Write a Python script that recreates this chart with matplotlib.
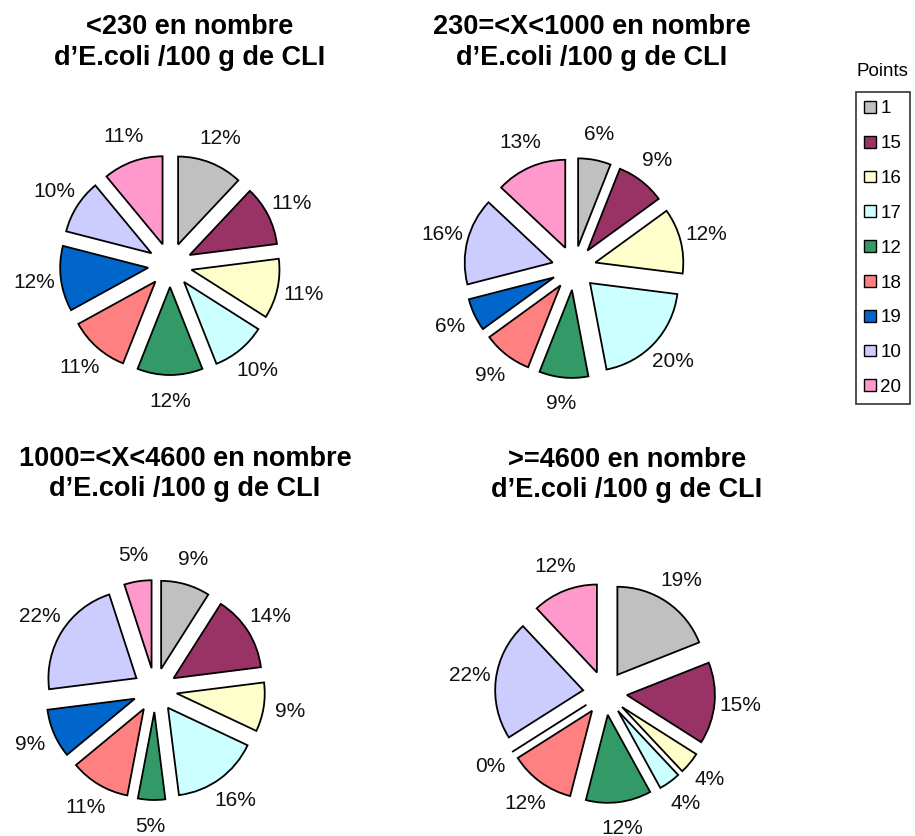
import matplotlib
matplotlib.use("Agg")
import matplotlib.pyplot as plt
from matplotlib.patches import Patch

plt.rcParams['font.family'] = ['Liberation Sans', 'DejaVu Sans']

points = ['1', '15', '16', '17', '12', '18', '19', '10', '20']
colors = ['#C0C0C0', '#993366', '#FFFFCC', '#CCFFFF', '#339966',
          '#FF8080', '#0066CC', '#CCCCFF', '#FF99CC']

titles = [
    ('<230 en nombre', 'd\u2019E.coli /100 g de CLI'),
    ('230=<X<1000 en nombre', 'd\u2019E.coli /100 g de CLI'),
    ('1000=<X<4600 en nombre', 'd\u2019E.coli /100 g de CLI'),
    ('>=4600 en nombre', 'd\u2019E.coli /100 g de CLI'),
]
vals_lt230 = [12, 11, 11, 10, 12, 11, 12, 10, 11]
vals_230_1000 = [6, 9, 12, 20, 9, 9, 6, 16, 13]
vals_1000_4600 = [9, 14, 9, 16, 5, 11, 9, 22, 5]
vals_ge4600 = [19, 15, 4, 4, 12, 12, 0, 22, 12]
series = [vals_lt230, vals_230_1000, vals_1000_4600, vals_ge4600]

W, H = 915, 836
fig = plt.figure(figsize=(W / 100, H / 100), dpi=100)

# layout in pixels
centers = [(170, 265), (574, 268), (155, 690), (605, 693)]
R = 88.0
AX = 320
title_pos = [(190, 27, 58), (592, 27, 58), (185, 459, 489), (627, 460, 490)]

for k, vals in enumerate(series):
    cx, cy = centers[k]
    ax = fig.add_axes([(cx - AX / 2) / W, (H - cy - AX / 2) / H, AX / W, AX / H])
    lim = AX / 2 / R
    ax.pie(vals, colors=colors, explode=[0.25] * len(vals), startangle=90,
           counterclock=False, radius=1.0,
           autopct=lambda p: f'{p:.0f}%', pctdistance=1.3,
           textprops={'fontsize': 15, 'color': '#111111'},
           wedgeprops={'edgecolor': 'black', 'linewidth': 1.3})
    ax.set_xlim(-lim, lim)
    ax.set_ylim(-lim, lim)
    ax.set_aspect('equal')
    ax.axis('off')
    tx, y1, y2 = title_pos[k]
    fig.text(tx / W, 1 - y1 / H, titles[k][0], ha='center', va='center',
             fontsize=19.5, fontweight='bold')
    fig.text(tx / W, 1 - y2 / H, titles[k][1], ha='center', va='center',
             fontsize=19.5, fontweight='bold')

fig.text(882 / W, 1 - 71 / H, 'Points', ha='center', va='center', fontsize=13.5)
handles = [Patch(facecolor=c, edgecolor='black', linewidth=1.0) for c in colors]
leg = fig.legend(handles, points, loc='upper left',
                 bbox_to_anchor=(856 / W, 1 - 92 / H), fontsize=13.5,
                 frameon=True, fancybox=False, edgecolor='black',
                 handlelength=0.6, handleheight=0.6, handletextpad=0.25,
                 labelspacing=0.95, borderpad=0.45, borderaxespad=0.0)
leg.get_frame().set_linewidth(1.2)

fig.savefig('out.png', dpi=100, facecolor='white')
